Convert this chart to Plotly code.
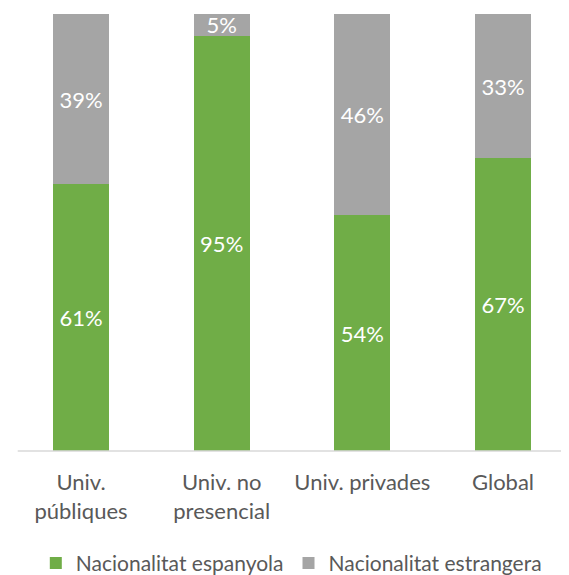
import plotly.graph_objects as go

categories = ["Univ.<br>públiques", "Univ. no<br>presencial", "Univ. privades", "Global"]
espanyola = [61, 95, 54, 67]
estrangera = [39, 5, 46, 33]
series_names = ["Nacionalitat espanyola", "Nacionalitat estrangera"]
colors = ["#70AD47", "#A5A5A5"]

x = list(range(len(categories)))
fig = go.Figure()
for vals, name, col in zip([espanyola, estrangera], series_names, colors):
    fig.add_trace(go.Bar(
        x=x, y=vals, name=name, marker=dict(color=col, line=dict(width=0)),
        text=[f"{v}%" for v in vals], textposition="inside",
        insidetextanchor="middle", constraintext="none",
        textfont=dict(color="white", size=22, family="Lato"),
        width=0.4,
    ))

fig.add_shape(type="line", xref="x", yref="paper", x0=-0.45, x1=3.469, y0=0, y1=0,
              line=dict(color="#D9D9D9", width=1.5))

fig.update_layout(
    width=561, height=567, barmode="stack",
    margin=dict(l=0, r=0, t=6, b=124, autoexpand=False),
    plot_bgcolor="white", paper_bgcolor="white",
    font=dict(family="Lato", color="#595959", size=22),
    xaxis=dict(tickmode="array", tickvals=x, ticktext=categories,
               range=[-0.519, 3.469], showline=False, showgrid=False,
               ticks="", ticklabelstandoff=16, automargin=False,
               tickfont=dict(size=22, color="#595959")),
    yaxis=dict(range=[0, 100], visible=False, automargin=False),
    legend=dict(orientation="h", x=0.505, xanchor="center", y=-0.21, yanchor="top",
                font=dict(size=21, color="#595959"), traceorder="normal",
                itemwidth=30),
    showlegend=True,
)
fig.write_html("out.html")
